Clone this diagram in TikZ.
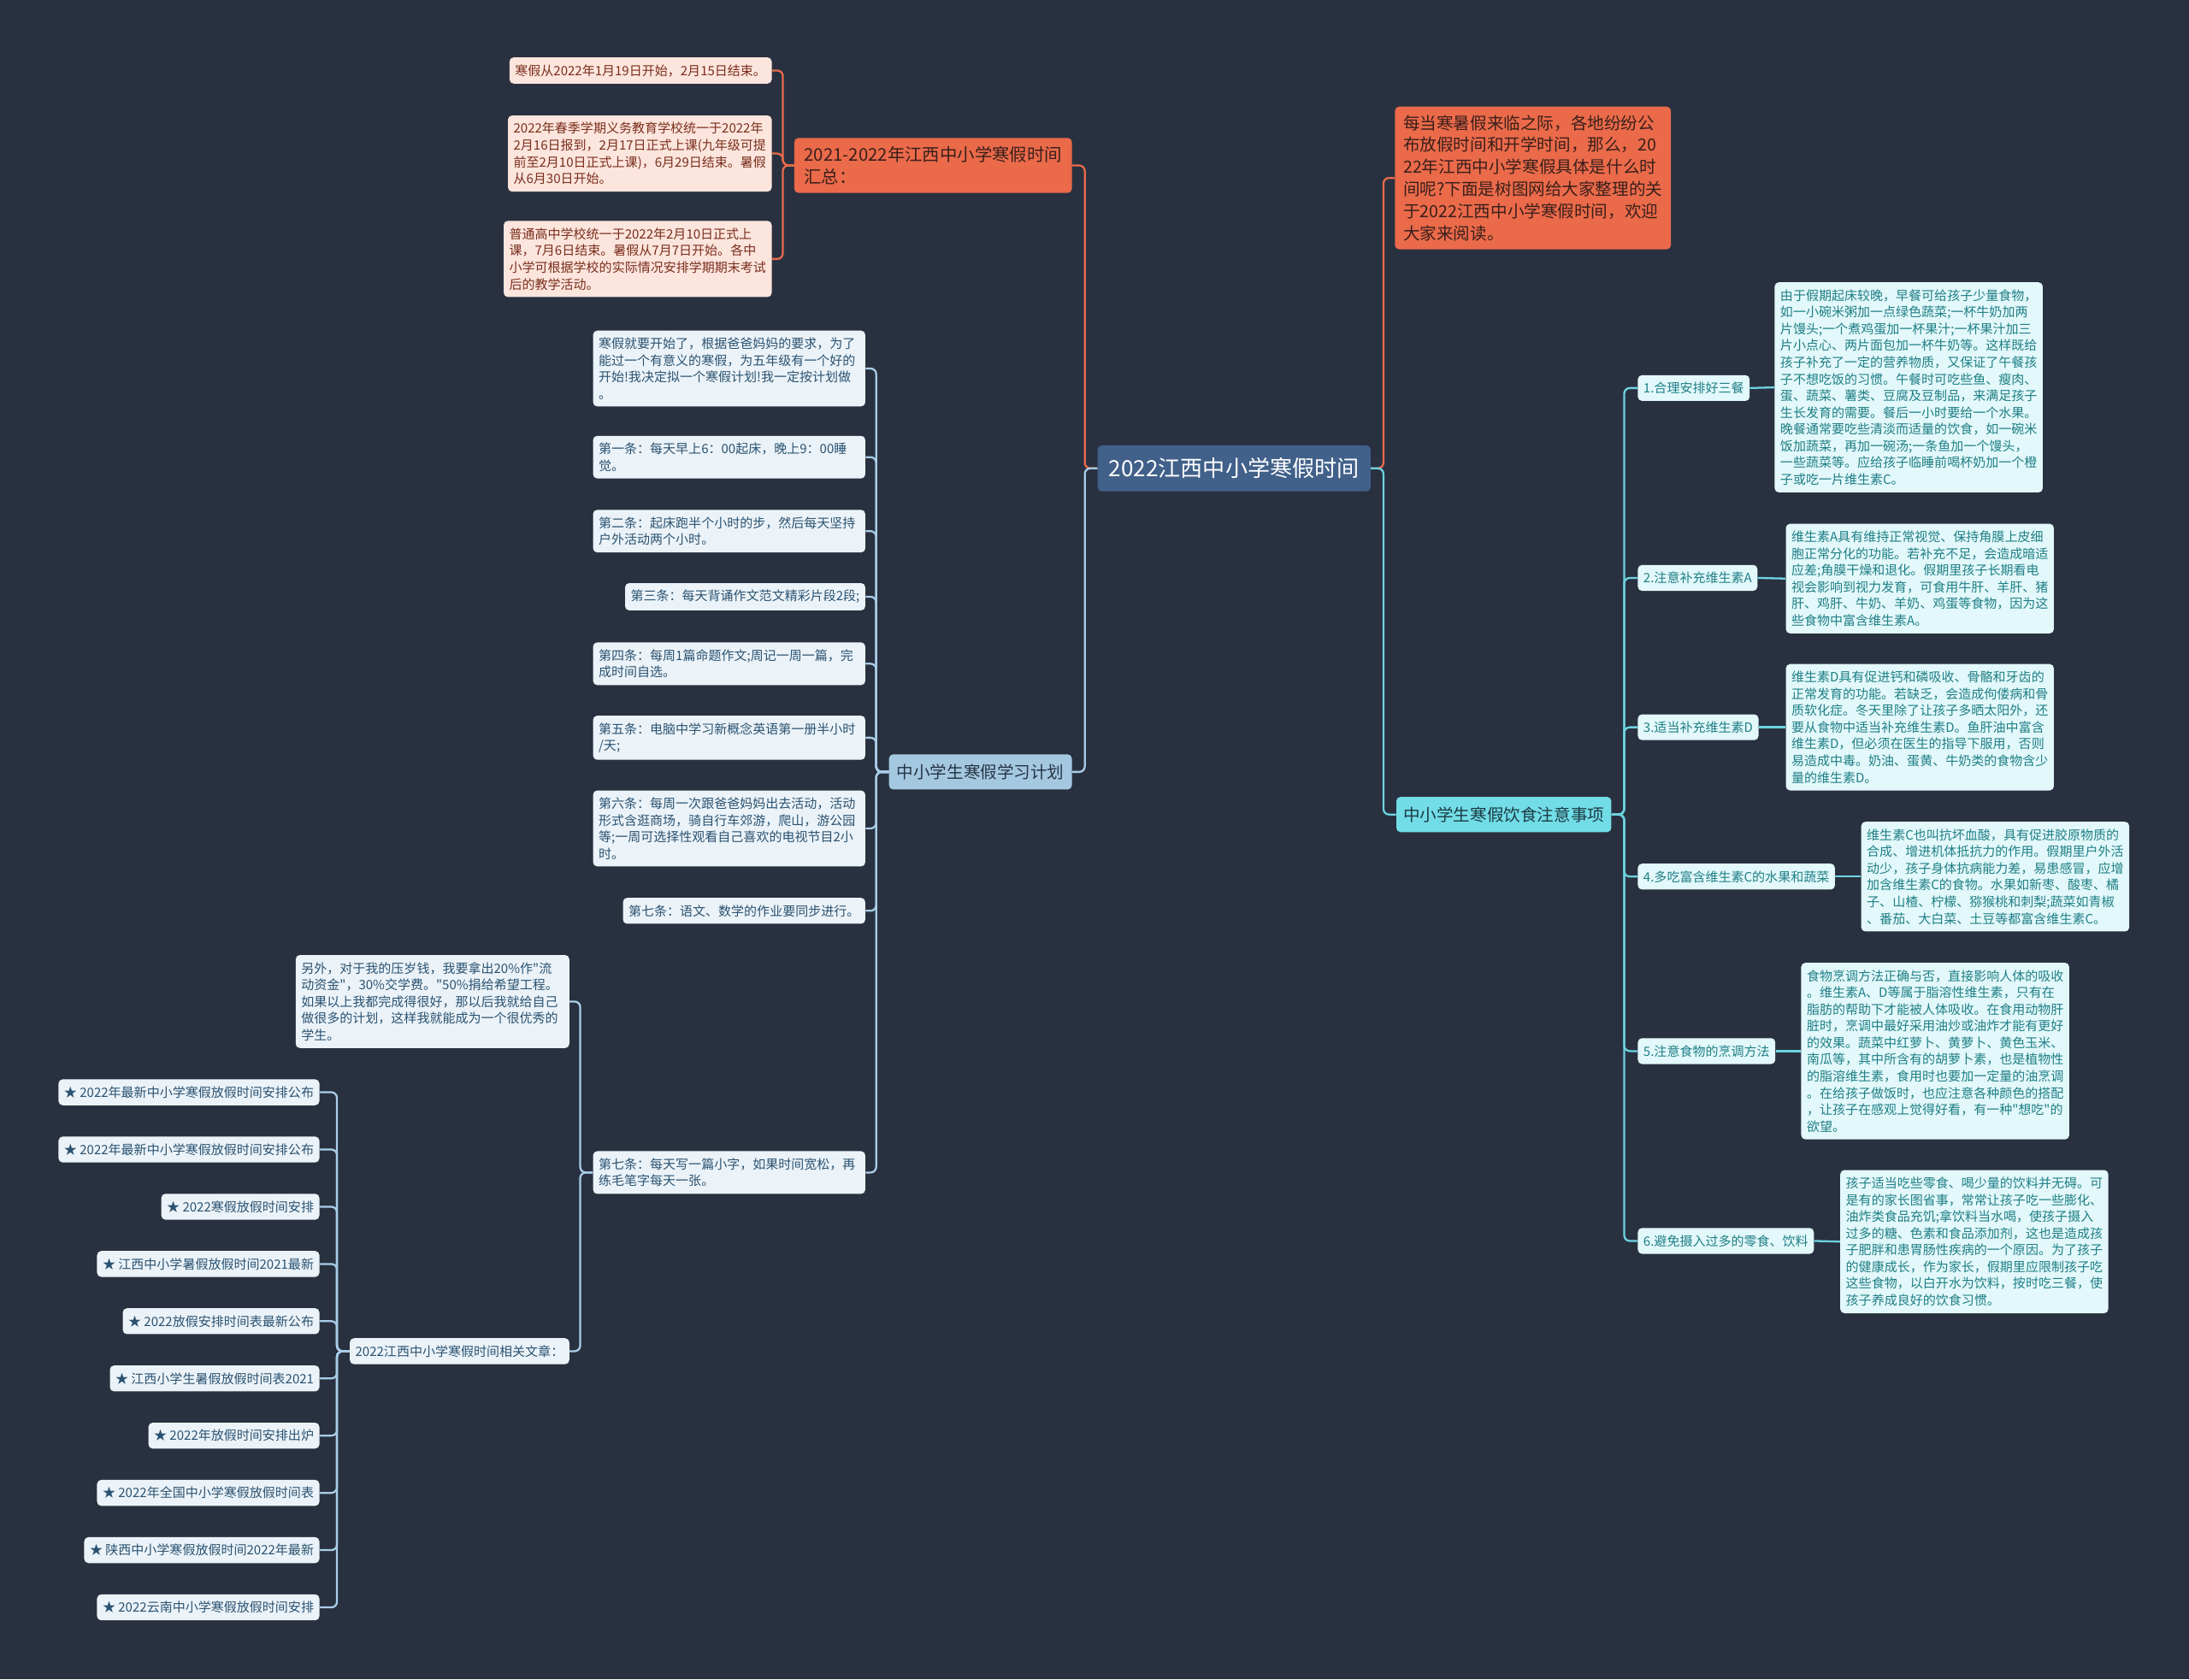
\documentclass[tikz,border=0pt]{standalone}
\usepackage{fontspec}
\setmainfont{Noto Sans CJK SC}[Ligatures=TeXOff]
\usepackage{xcolor}
\definecolor{bgdark}{HTML}{293140}
\definecolor{rootblue}{HTML}{41608A}
\definecolor{orangemain}{HTML}{EA6A4A}
\definecolor{orangeink}{HTML}{3A1F1A}
\definecolor{orangepale}{HTML}{FCE5DD}
\definecolor{orangedark}{HTML}{7A2E1C}
\definecolor{cyanmain}{HTML}{72DDE7}
\definecolor{cyanink}{HTML}{1C3B44}
\definecolor{cyanpale}{HTML}{E3F8FA}
\definecolor{cyandark}{HTML}{1E7F86}
\definecolor{cyanline}{HTML}{6CD4E0}
\definecolor{bluemain}{HTML}{A5C8E1}
\definecolor{blueink}{HTML}{253545}
\definecolor{bluepale}{HTML}{EBF3F9}
\definecolor{bluedark}{HTML}{2B5270}
\definecolor{blueline}{HTML}{A9CDE8}

\tikzset{
  mapbox/.style={rounded corners=3pt, align=left, inner xsep=4pt, inner ysep=5pt, font=\fontsize{9.2}{12}\selectfont},
  roottopic/.style={mapbox, fill=rootblue, text=white, font=\fontsize{16}{19}\selectfont, inner xsep=8pt, inner ysep=9pt},
  orangetopic/.style={mapbox, fill=orangemain, text=orangeink, font=\fontsize{12.5}{16}\selectfont, inner xsep=7pt, inner ysep=6pt},
  orangeleaf/.style={mapbox, fill=orangepale, text=orangedark},
  cyantopic/.style={mapbox, fill=cyanmain, text=cyanink, font=\fontsize{12}{15}\selectfont, inner xsep=5pt, inner ysep=7pt},
  cyanleaf/.style={mapbox, fill=cyanpale, text=cyandark},
  bluetopic/.style={mapbox, fill=bluemain, text=blueink, font=\fontsize{12}{15}\selectfont, inner xsep=5.5pt, inner ysep=7pt},
  blueleaf/.style={mapbox, fill=bluepale, text=bluedark},
  blueblock/.style={blueleaf, text width=187pt},
  orangelink/.style={draw=orangemain, line width=1.4pt, rounded corners=4pt},
  cyanlink/.style={draw=cyanline, line width=1.4pt, rounded corners=4pt},
  bluelink/.style={draw=blueline, line width=1.4pt, rounded corners=4pt}
}

\begin{document}
\begin{tikzpicture}[x=1pt, y=-1pt]
  \fill[bgdark] (0,0) rectangle (1568,1203);
  \useasboundingbox (0,0) rectangle (1568,1203);

  % centre
  \node[roottopic] (root) at (884,335.5) {2022江西中小学寒假时间};

  % upper left: dates
  \node[orangetopic, anchor=east] (sum) at (768,118.5) {2021-2022年江西中小学寒假时间\\汇总：};
  \node[orangeleaf, anchor=east] (sumA) at (553,50.5) {寒假从2022年1月19日开始，2月15日结束。};
  \node[orangeleaf, anchor=east] (sumB) at (553,110) {2022年春季学期义务教育学校统一于2022年\\2月16日报到，2月17日正式上课(九年级可提\\前至2月10日正式上课)，6月29日结束。暑假\\从6月30日开始。};
  \node[orangeleaf, anchor=east] (sumC) at (553,185.5) {普通高中学校统一于2022年2月10日正式上\\课，7月6日结束。暑假从7月7日开始。各中\\小学可根据学校的实际情况安排学期期末考试\\后的教学活动。};

  % upper right: intro
  \node[orangetopic, anchor=west, font=\fontsize{12}{15.8}\selectfont, inner xsep=6pt] (intro) at (999,127.5) {每当寒暑假来临之际，各地纷纷公\\布放假时间和开学时间，那么，20\\22年江西中小学寒假具体是什么时\\间呢?下面是树图网给大家整理的关\\于2022江西中小学寒假时间，欢迎\\大家来阅读。};

  % right: diet
  \node[cyantopic, anchor=west] (diet) at (1000,583.5) {中小学生寒假饮食注意事项};
  \node[cyanleaf, anchor=west] (dietA) at (1173,278) {1.合理安排好三餐};
  \node[cyanleaf, anchor=west] (dietB) at (1173,414) {2.注意补充维生素A};
  \node[cyanleaf, anchor=west] (dietC) at (1173,521) {3.适当补充维生素D};
  \node[cyanleaf, anchor=west] (dietD) at (1173,628) {4.多吃富含维生素C的水果和蔬菜};
  \node[cyanleaf, anchor=west] (dietE) at (1173,753) {5.注意食物的烹调方法};
  \node[cyanleaf, anchor=west] (dietF) at (1173,889) {6.避免摄入过多的零食、饮料};
  \node[cyanleaf, anchor=west] (noteA) at (1271,277.5) {由于假期起床较晚，早餐可给孩子少量食物，\\如一小碗米粥加一点绿色蔬菜;一杯牛奶加两\\片馒头;一个煮鸡蛋加一杯果汁;一杯果汁加三\\片小点心、两片面包加一杯牛奶等。这样既给\\孩子补充了一定的营养物质，又保证了午餐孩\\子不想吃饭的习惯。午餐时可吃些鱼、瘦肉、\\蛋、蔬菜、薯类、豆腐及豆制品，来满足孩子\\生长发育的需要。餐后一小时要给一个水果。\\晚餐通常要吃些清淡而适量的饮食，如一碗米\\饭加蔬菜，再加一碗汤;一条鱼加一个馒头，\\一些蔬菜等。应给孩子临睡前喝杯奶加一个橙\\子或吃一片维生素C。};
  \node[cyanleaf, anchor=west] (noteB) at (1279,414.5) {维生素A具有维持正常视觉、保持角膜上皮细\\胞正常分化的功能。若补充不足，会造成暗适\\应差;角膜干燥和退化。假期里孩子长期看电\\视会影响到视力发育，可食用牛肝、羊肝、猪\\肝、鸡肝、牛奶、羊奶、鸡蛋等食物，因为这\\些食物中富含维生素A。};
  \node[cyanleaf, anchor=west] (noteC) at (1279,521) {维生素D具有促进钙和磷吸收、骨骼和牙齿的\\正常发育的功能。若缺乏，会造成佝偻病和骨\\质软化症。冬天里除了让孩子多晒太阳外，还\\要从食物中适当补充维生素D。鱼肝油中富含\\维生素D，但必须在医生的指导下服用，否则\\易造成中毒。奶油、蛋黄、牛奶类的食物含少\\量的维生素D。};
  \node[cyanleaf, anchor=west] (noteD) at (1333,628) {维生素C也叫抗坏血酸，具有促进胶原物质的\\合成、增进机体抵抗力的作用。假期里户外活\\动少，孩子身体抗病能力差，易患感冒，应增\\加含维生素C的食物。水果如新枣、酸枣、橘\\子、山楂、柠檬、猕猴桃和刺梨;蔬菜如青椒\\、番茄、大白菜、土豆等都富含维生素C。};
  \node[cyanleaf, anchor=west] (noteE) at (1290,753) {食物烹调方法正确与否，直接影响人体的吸收\\。维生素A、D等属于脂溶性维生素，只有在\\脂肪的帮助下才能被人体吸收。在食用动物肝\\脏时，烹调中最好采用油炒或油炸才能有更好\\的效果。蔬菜中红萝卜、黄萝卜、黄色玉米、\\南瓜等，其中所含有的胡萝卜素，也是植物性\\的脂溶维生素，食用时也要加一定量的油烹调\\。在给孩子做饭时，也应注意各种颜色的搭配\\，让孩子在感观上觉得好看，有一种"想吃"的\\欲望。};
  \node[cyanleaf, anchor=west] (noteF) at (1318,889.5) {孩子适当吃些零食、喝少量的饮料并无碍。可\\是有的家长图省事，常常让孩子吃一些膨化、\\油炸类食品充饥;拿饮料当水喝，使孩子摄入\\过多的糖、色素和食品添加剂，这也是造成孩\\子肥胖和患胃肠性疾病的一个原因。为了孩子\\的健康成长，作为家长，假期里应限制孩子吃\\这些食物，以白开水为饮料，按时吃三餐，使\\孩子养成良好的饮食习惯。};

  % left: study plan
  \node[bluetopic, anchor=east] (plan) at (768,553) {中小学生寒假学习计划};
  \node[blueblock, anchor=east] (planA) at (620,264) {寒假就要开始了，根据爸爸妈妈的要求，为了\\能过一个有意义的寒假，为五年级有一个好的\\开始!我决定拟一个寒假计划!我一定按计划做\\。};
  \node[blueblock, anchor=east] (planB) at (620,327.5) {第一条：每天早上6：00起床，晚上9：00睡\\觉。};
  \node[blueblock, anchor=east] (planC) at (620,380.5) {第二条：起床跑半个小时的步，然后每天坚持\\户外活动两个小时。};
  \node[blueleaf, anchor=east] (planD) at (620,427.5) {第三条：每天背诵作文范文精彩片段2段;};
  \node[blueblock, anchor=east] (planE) at (620,475.5) {第四条：每周1篇命题作文;周记一周一篇，完\\成时间自选。};
  \node[blueblock, anchor=east] (planF) at (620,528.5) {第五条：电脑中学习新概念英语第一册半小时\\/天;};
  \node[blueblock, anchor=east] (planG) at (620,593.5) {第六条：每周一次跟爸爸妈妈出去活动，活动\\形式含逛商场，骑自行车郊游，爬山，游公园\\等;一周可选择性观看自己喜欢的电视节目2小\\时。};
  \node[blueleaf, anchor=east] (planH) at (620,652.5) {第七条：语文、数学的作业要同步进行。};
  \node[blueblock, anchor=east] (planI) at (620,840) {第七条：每天写一篇小字，如果时间宽松，再\\练毛笔字每天一张。};
  \node[blueblock, anchor=east, text width=188pt] (money) at (408,717.5) {另外，对于我的压岁钱，我要拿出20\%作"流\\动资金"，30\%交学费。"50\%捐给希望工程。\\如果以上我都完成得很好，那以后我就给自己\\做很多的计划，这样我就能成为一个很优秀的\\学生。};
  \node[blueleaf, anchor=east] (links) at (408,968) {2022江西中小学寒假时间相关文章：};

  % related articles
  \node[blueleaf, anchor=east] (art1) at (229,782.5) {★ 2022年最新中小学寒假放假时间安排公布};
  \node[blueleaf, anchor=east] (art2) at (229,823.5) {★ 2022年最新中小学寒假放假时间安排公布};
  \node[blueleaf, anchor=east] (art3) at (229,864.5) {★ 2022寒假放假时间安排};
  \node[blueleaf, anchor=east] (art4) at (229,905.5) {★ 江西中小学暑假放假时间2021最新};
  \node[blueleaf, anchor=east] (art5) at (229,946.5) {★ 2022放假安排时间表最新公布};
  \node[blueleaf, anchor=east] (art6) at (229,987.5) {★ 江西小学生暑假放假时间表2021};
  \node[blueleaf, anchor=east] (art7) at (229,1028.5) {★ 2022年放假时间安排出炉};
  \node[blueleaf, anchor=east] (art8) at (229,1069.5) {★ 2022年全国中小学寒假放假时间表};
  \node[blueleaf, anchor=east] (art9) at (229,1110.5) {★ 陕西中小学寒假放假时间2022年最新};
  \node[blueleaf, anchor=east] (art10) at (229,1151.5) {★ 2022云南中小学寒假放假时间安排};

  % connectors
  \draw[orangelink] (root.west) -- ++(-9,0) |- (sum.east);
  \draw[bluelink] (root.west) -- ++(-9,0) |- (plan.east);
  \draw[orangelink] (root.east) -- ++(9,0) |- (intro.west);
  \draw[cyanlink] (root.east) -- ++(9,0) |- (diet.west);

  \draw[orangelink] (sum.west) -- ++(-8,0) |- (sumA.east);
  \draw[orangelink] (sum.west) -- ++(-8,0) |- (sumB.east);
  \draw[orangelink] (sum.west) -- ++(-8,0) |- (sumC.east);

  \draw[cyanlink] (diet.east) -- ++(9,0) |- (dietA.west);
  \draw[cyanlink] (diet.east) -- ++(9,0) |- (dietB.west);
  \draw[cyanlink] (diet.east) -- ++(9,0) |- (dietC.west);
  \draw[cyanlink] (diet.east) -- ++(9,0) |- (dietD.west);
  \draw[cyanlink] (diet.east) -- ++(9,0) |- (dietE.west);
  \draw[cyanlink] (diet.east) -- ++(9,0) |- (dietF.west);
  \draw[cyanlink] (dietA.east) -- (noteA.west);
  \draw[cyanlink] (dietB.east) -- (noteB.west);
  \draw[cyanlink] (dietC.east) -- (noteC.west);
  \draw[cyanlink] (dietD.east) -- (noteD.west);
  \draw[cyanlink] (dietE.east) -- (noteE.west);
  \draw[cyanlink] (dietF.east) -- (noteF.west);

  \draw[bluelink] (plan.west) -- ++(-9,0) |- (planA.east);
  \draw[bluelink] (plan.west) -- ++(-9,0) |- (planB.east);
  \draw[bluelink] (plan.west) -- ++(-9,0) |- (planC.east);
  \draw[bluelink] (plan.west) -- ++(-9,0) |- (planD.east);
  \draw[bluelink] (plan.west) -- ++(-9,0) |- (planE.east);
  \draw[bluelink] (plan.west) -- ++(-9,0) |- (planF.east);
  \draw[bluelink] (plan.west) -- ++(-9,0) |- (planG.east);
  \draw[bluelink] (plan.west) -- ++(-9,0) |- (planH.east);
  \draw[bluelink] (plan.west) -- ++(-9,0) |- (planI.east);
  \draw[bluelink] (planI.west) -- ++(-9,0) |- (money.east);
  \draw[bluelink] (planI.west) -- ++(-9,0) |- (links.east);

  \draw[bluelink] (links.west) -- ++(-9,0) |- (art1.east);
  \draw[bluelink] (links.west) -- ++(-9,0) |- (art2.east);
  \draw[bluelink] (links.west) -- ++(-9,0) |- (art3.east);
  \draw[bluelink] (links.west) -- ++(-9,0) |- (art4.east);
  \draw[bluelink] (links.west) -- ++(-9,0) |- (art5.east);
  \draw[bluelink] (links.west) -- ++(-9,0) |- (art6.east);
  \draw[bluelink] (links.west) -- ++(-9,0) |- (art7.east);
  \draw[bluelink] (links.west) -- ++(-9,0) |- (art8.east);
  \draw[bluelink] (links.west) -- ++(-9,0) |- (art9.east);
  \draw[bluelink] (links.west) -- ++(-9,0) |- (art10.east);
\end{tikzpicture}
\end{document}
